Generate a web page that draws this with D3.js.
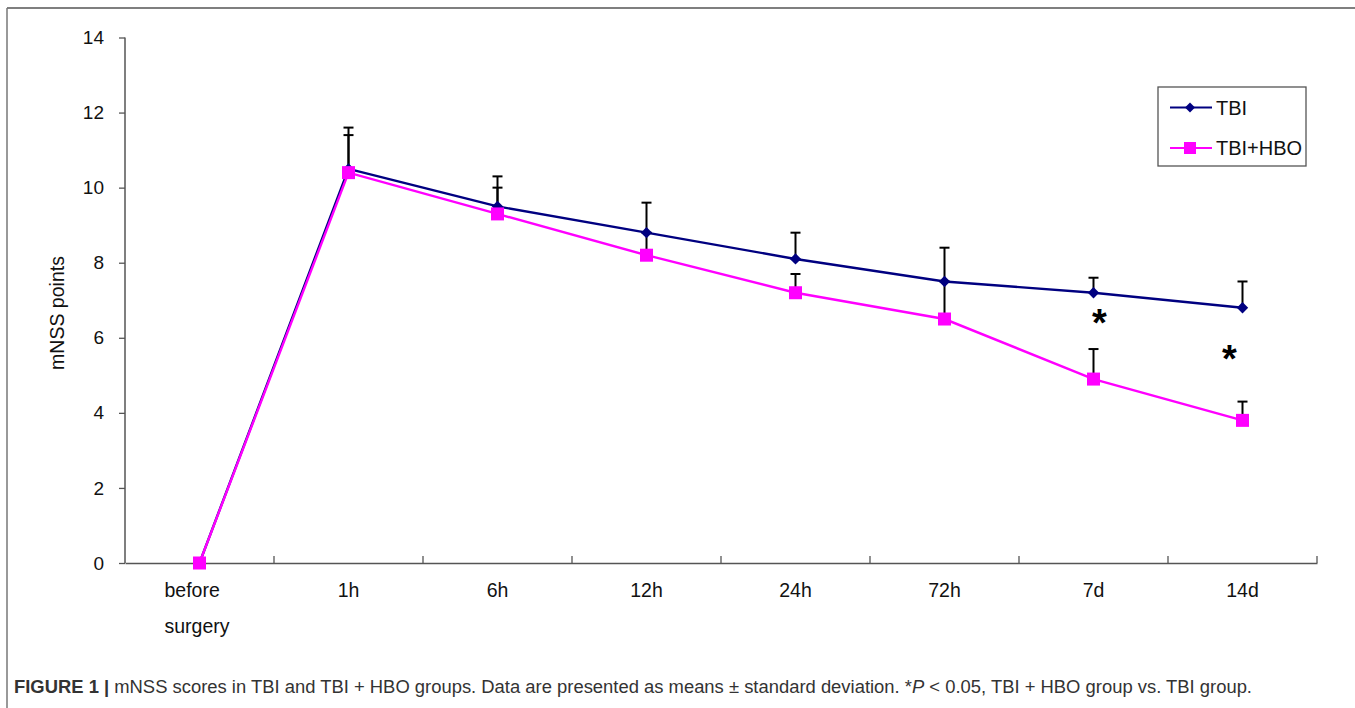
<!DOCTYPE html>
<html>
<head>
<meta charset="utf-8">
<script src="https://cdn.jsdelivr.net/npm/d3@7"></script>
<style>
  html, body { margin: 0; padding: 0; background: #fff; }
  svg { display: block; font-family: "Liberation Sans", Arial, sans-serif; }
</style>
</head>
<body>
<svg id="chart" width="1355" height="708"></svg>
<script>
// ---- data ----
const categories = ["before surgery", "1h", "6h", "12h", "24h", "72h", "7d", "14d"];
const tbiMean  = [0, 10.5, 9.5, 8.8, 8.1, 7.5, 7.2, 6.8];
const tbiUpper = [null, 11.6, 10.3, 9.6, 8.8, 8.4, 7.6, 7.5];
const hboMean  = [0, 10.4, 9.3, 8.2, 7.2, 6.5, 4.9, 3.8];
const hboUpper = [null, 11.4, 10.0, 8.8, 7.7, 7.5, 5.7, 4.3];
const yTicks = [0, 2, 4, 6, 8, 10, 12, 14];
const seriesNames = ["TBI", "TBI+HBO"];
const sigCategories = ["7d", "14d"];
const sigValues = [6.5, 5.55];

const svg = d3.select("#chart");
const axisColor = "#555";
const navy = "#000080", magenta = "#ff00ff";

// frame (top + left)
svg.append("line").attr("x1", 7).attr("y1", 8).attr("x2", 1355).attr("y2", 8)
  .attr("stroke", "#555").attr("stroke-width", 1.5);
svg.append("line").attr("x1", 7).attr("y1", 8).attr("x2", 7).attr("y2", 708)
  .attr("stroke", "#777").attr("stroke-width", 1.5);

const x = d3.scaleBand().domain(categories).range([125, 1317]).padding(0);
const y = d3.scaleLinear().domain([0, 14]).range([563, 37.5]);
const cx = c => x(c) + x.bandwidth() / 2;

// y axis
const yAxis = svg.append("g").attr("transform", "translate(125,0)")
  .call(d3.axisLeft(y).tickValues(yTicks).tickSize(6).tickPadding(15).tickSizeOuter(0));
yAxis.select(".domain").attr("stroke", axisColor).attr("stroke-width", 1.5)
  .attr("d", `M0,${y(14)}V${y(0)}`);
yAxis.selectAll(".tick line").attr("stroke", axisColor).attr("stroke-width", 1.3);
yAxis.selectAll(".tick text").attr("font-size", 19).attr("fill", "#111")
  .attr("font-family", "Liberation Sans, Arial, sans-serif");

// x axis
const xAxis = svg.append("g").attr("transform", `translate(0,${y(0)})`)
  .call(d3.axisBottom(x).tickSize(0).tickSizeOuter(0).tickFormat(""));
xAxis.select(".domain").attr("stroke", axisColor).attr("stroke-width", 1.5);
xAxis.selectAll(".tick").remove();
const boundaries = categories.slice(1).map(c => x(c)).concat([x.range()[1]]);
xAxis.selectAll("line.bt").data(boundaries).enter().append("line")
  .attr("x1", d => d).attr("x2", d => d).attr("y1", 0).attr("y2", -7)
  .attr("stroke", axisColor).attr("stroke-width", 1.3);

// x labels
const xl = svg.append("g").attr("font-size", 19.5).attr("fill", "#111");
categories.forEach((c, i) => {
  if (i === 0) {
    const words = c.split(" ");
    const t = xl.append("text").attr("x", cx(c) - 35).attr("y", y(0) + 34);
    words.forEach((w, j) => t.append("tspan").attr("x", cx(c) - 35).attr("dy", j === 0 ? 0 : 36).text(w));
  } else {
    xl.append("text").attr("x", cx(c)).attr("y", y(0) + 34).attr("text-anchor", "middle").text(c);
  }
});

// y label
svg.append("text").attr("transform", "translate(64,313) rotate(-90)")
  .attr("text-anchor", "middle").attr("font-size", 19.5).attr("fill", "#111")
  .text("mNSS points");

// lines
const line = d3.line().x((d, i) => cx(categories[i])).y(d => y(d));
svg.append("path").datum(tbiMean).attr("d", line).attr("fill", "none")
  .attr("stroke", navy).attr("stroke-width", 2.4);
svg.append("path").datum(hboMean).attr("d", line).attr("fill", "none")
  .attr("stroke", magenta).attr("stroke-width", 2.4);

// error bars
function errBars(mean, upper) {
  const g = svg.append("g").attr("stroke", "#000").attr("stroke-width", 2);
  mean.forEach((m, i) => {
    if (upper[i] == null) return;
    const px = cx(categories[i]);
    g.append("line").attr("x1", px).attr("x2", px).attr("y1", y(m)).attr("y2", y(upper[i]));
    g.append("line").attr("x1", px - 5).attr("x2", px + 5).attr("y1", y(upper[i])).attr("y2", y(upper[i]));
  });
}
errBars(tbiMean, tbiUpper);
errBars(hboMean, hboUpper);

// markers
svg.append("g").selectAll("path").data(tbiMean).enter().append("path")
  .attr("d", d3.symbol().type(d3.symbolSquare).size(64))
  .attr("transform", (d, i) => `translate(${cx(categories[i])},${y(d)}) rotate(45)`)
  .attr("fill", navy);
svg.append("g").selectAll("rect").data(hboMean).enter().append("rect")
  .attr("x", (d, i) => cx(categories[i]) - 6.5).attr("y", d => y(d) - 6.5)
  .attr("width", 13).attr("height", 13).attr("fill", magenta);

// significance asterisks
const sigOffsets = [6, -13];
sigCategories.forEach((c, i) => {
  svg.append("text").attr("x", cx(c) + sigOffsets[i]).attr("y", y(sigValues[i]) + 17)
    .attr("text-anchor", "middle").attr("font-size", 38).attr("font-weight", "bold")
    .attr("fill", "#000").text("*");
});

// legend
const lg = svg.append("g");
lg.append("rect").attr("x", 1158).attr("y", 87).attr("width", 148).attr("height", 79)
  .attr("fill", "#fff").attr("stroke", "#555").attr("stroke-width", 1.3);
[[navy, 107.5, "d"], [magenta, 148, "s"]].forEach(([col, ly, m], i) => {
  lg.append("line").attr("x1", 1170).attr("x2", 1212).attr("y1", ly).attr("y2", ly)
    .attr("stroke", col).attr("stroke-width", 2);
  if (m === "d") {
    lg.append("path").attr("d", d3.symbol().type(d3.symbolSquare).size(50))
      .attr("transform", `translate(1190,${ly}) rotate(45)`).attr("fill", col);
  } else {
    lg.append("rect").attr("x", 1184).attr("y", ly - 6).attr("width", 12).attr("height", 12).attr("fill", col);
  }
  lg.append("text").attr("x", 1216).attr("y", ly + 7).attr("font-size", 20).attr("fill", "#111")
    .text(seriesNames[i]);
});

// caption
const cap = svg.append("text").attr("x", 14).attr("y", 693).attr("font-size", 17.5).attr("fill", "#333")
  .attr("textLength", 1238).attr("lengthAdjust", "spacingAndGlyphs");
cap.append("tspan").attr("font-weight", "bold").text("FIGURE 1 | ");
cap.append("tspan").text("mNSS scores in TBI and TBI + HBO groups. Data are presented as means \u00b1 standard deviation. *");
cap.append("tspan").attr("font-style", "italic").text("P");
cap.append("tspan").text(" < 0.05, TBI + HBO group vs. TBI group.");
</script>
</body>
</html>
